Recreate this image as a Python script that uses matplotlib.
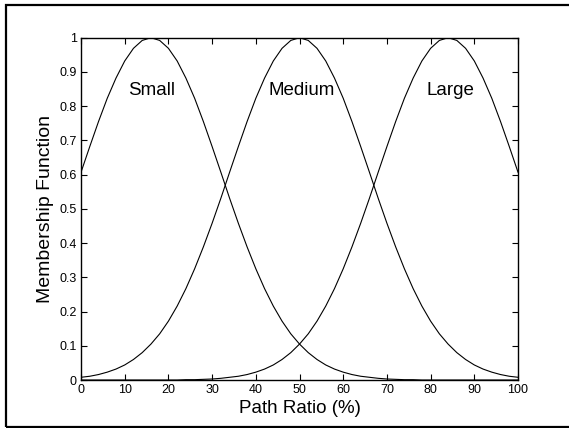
import numpy as np
import matplotlib
matplotlib.use("Agg")
import matplotlib.pyplot as plt
from matplotlib.patches import Rectangle

plt.rcParams['font.family'] = ['Liberation Sans', 'DejaVu Sans']

# path ratio samples (%)
x = list(range(0, 101, 2))

# membership values
small = [0.607, 0.682, 0.755, 0.823, 0.882, 0.932, 0.969, 0.992, 1.0, 0.992,
         0.969, 0.932, 0.882, 0.823, 0.755, 0.682, 0.607, 0.531, 0.458, 0.389,
         0.325, 0.267, 0.216, 0.172, 0.135, 0.105, 0.080, 0.060, 0.044, 0.032,
         0.023, 0.016, 0.011, 0.008, 0.005, 0.003, 0.002, 0.001, 0.001, 0.0,
         0.0, 0.0, 0.0, 0.0, 0.0, 0.0, 0.0, 0.0, 0.0, 0.0, 0.0]
medium = [0.008, 0.011, 0.016, 0.023, 0.032, 0.044, 0.060, 0.080, 0.105, 0.135,
          0.172, 0.216, 0.267, 0.325, 0.389, 0.458, 0.531, 0.607, 0.682, 0.755,
          0.823, 0.882, 0.932, 0.969, 0.992, 1.0, 0.992, 0.969, 0.932, 0.882,
          0.823, 0.755, 0.682, 0.607, 0.531, 0.458, 0.389, 0.325, 0.267, 0.216,
          0.172, 0.135, 0.105, 0.080, 0.060, 0.044, 0.032, 0.023, 0.016, 0.011,
          0.008]
large = small[::-1]

labels = ["Small", "Medium", "Large"]
label_x = [10.8, 42.8, 79.1]
label_y = 0.845

fig = plt.figure(figsize=(5.69, 4.28), dpi=100)
ax = fig.add_axes([0.1424, 0.1121, 0.768, 0.7998])

for y in (small, medium, large):
    ax.plot(x, y, color="black", linewidth=0.8)

for name, lx in zip(labels, label_x):
    ax.text(lx, label_y, name, fontsize=13.5, va="center", ha="left")

ax.set_xlim(0, 100)
ax.set_ylim(0, 1)
ax.set_xticks(np.arange(0, 101, 10))
ax.set_yticks(np.arange(0, 1.01, 0.1))
ax.set_yticklabels(["0", "0.1", "0.2", "0.3", "0.4", "0.5", "0.6", "0.7", "0.8", "0.9", "1"])
ax.tick_params(direction="in", length=4.5, width=0.8, labelsize=9,
               top=True, right=True, pad=3)
for s in ax.spines.values():
    s.set_linewidth(1.0)

ax.set_xlabel("Path Ratio (%)", fontsize=13.5, labelpad=3)
ax.set_ylabel("Membership Function", fontsize=14, labelpad=4)

# outer frame of the picture
fig.patches.append(Rectangle((6 / 569, 1.5 / 428), 1.2, 1 - 6.5 / 428,
                             transform=fig.transFigure, fill=False,
                             edgecolor="black", linewidth=1.6))

fig.savefig("out.png", dpi=100)
